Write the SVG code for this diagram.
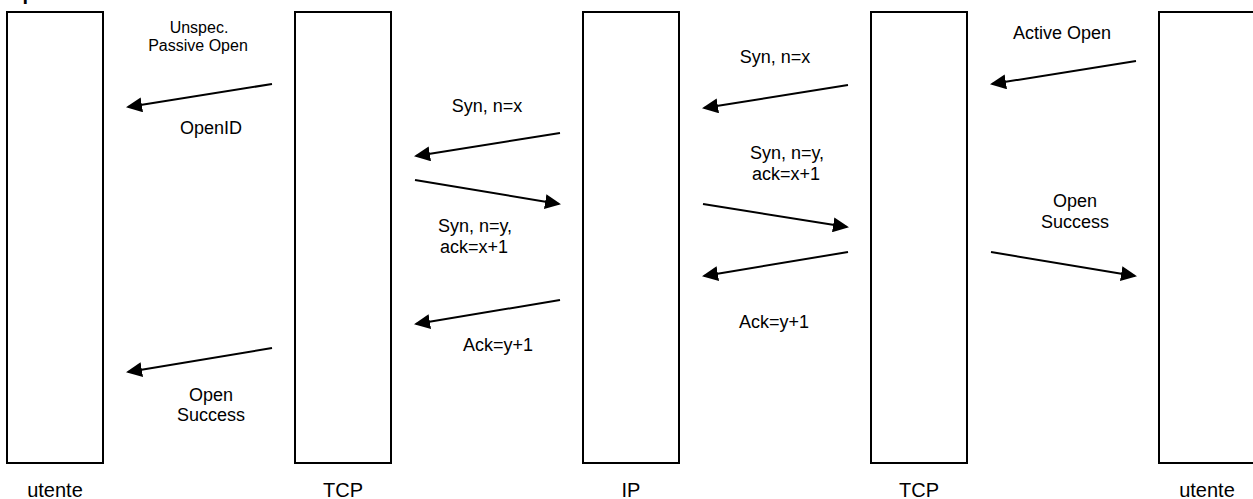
<svg xmlns="http://www.w3.org/2000/svg" width="1253" height="499" viewBox="0 0 1253 499">
<defs>
<style>
.box{fill:#fff;stroke:#000;stroke-width:2}
.t{font-family:"Liberation Sans",Arial,sans-serif;font-size:18px;fill:#000;text-anchor:middle}
.s{font-size:16px}
.lbl{font-size:20px}
.ttl{font-family:"Liberation Sans",Arial,sans-serif;font-size:20px;font-weight:bold;fill:#000}
.a{stroke:#000;stroke-width:2;fill:none;marker-end:url(#ah)}
</style>
<marker id="ah" markerUnits="userSpaceOnUse" markerWidth="16" markerHeight="15" viewBox="0 0 16 15" refX="14" refY="7.5" orient="auto">
<path d="M0,0 L16,7.5 L0,15 z" fill="#000"/>
</marker>
</defs>
<rect width="1253" height="499" fill="#fff"/>
<text class="ttl" x="8" y="0">Apertura di una connessione</text>
<g id="utente1"><rect class="box" x="7" y="12" width="96" height="451"/><text class="t lbl" x="55" y="497">utente</text></g>
<g id="tcp1"><rect class="box" x="295" y="12" width="96" height="451"/><text class="t lbl" x="343" y="497">TCP</text></g>
<g id="ip"><rect class="box" x="583" y="12" width="96" height="451"/><text class="t lbl" x="631" y="497">IP</text></g>
<g id="tcp2"><rect class="box" x="871" y="12" width="96" height="451"/><text class="t lbl" x="919" y="497">TCP</text></g>
<g id="utente2"><rect class="box" x="1159" y="12" width="96" height="451"/><text class="t lbl" x="1207" y="497">utente</text></g>
<g id="connectors">
<line class="a" x1="272" y1="84" x2="128" y2="107"/>
<line class="a" x1="560" y1="133" x2="416" y2="156"/>
<line class="a" x1="415" y1="180" x2="559" y2="204"/>
<line class="a" x1="560" y1="300" x2="416" y2="324"/>
<line class="a" x1="272" y1="348" x2="128" y2="372"/>
<line class="a" x1="848" y1="85" x2="704" y2="108"/>
<line class="a" x1="703" y1="204" x2="847" y2="227"/>
<line class="a" x1="848" y1="252" x2="704" y2="276"/>
<line class="a" x1="1136" y1="61" x2="992" y2="84"/>
<line class="a" x1="991" y1="252" x2="1135" y2="276"/>
</g>
<g id="labels">
<text class="t s" x="199" y="33">Unspec.</text>
<text class="t s" x="198" y="51">Passive Open</text>
<text class="t" x="211" y="134">OpenID</text>
<text class="t" x="487" y="112">Syn, n=x</text>
<text class="t" x="475" y="232">Syn, n=y,</text>
<text class="t" x="474" y="253">ack=x+1</text>
<text class="t" x="498" y="351">Ack=y+1</text>
<text class="t" x="211" y="401">Open</text>
<text class="t" x="211" y="421">Success</text>
<text class="t" x="775" y="63">Syn, n=x</text>
<text class="t" x="787" y="159">Syn, n=y,</text>
<text class="t" x="786" y="180">ack=x+1</text>
<text class="t" x="774" y="328">Ack=y+1</text>
<text class="t" x="1062" y="39">Active Open</text>
<text class="t" x="1075" y="207">Open</text>
<text class="t" x="1075" y="228">Success</text>
</g>
</svg>
